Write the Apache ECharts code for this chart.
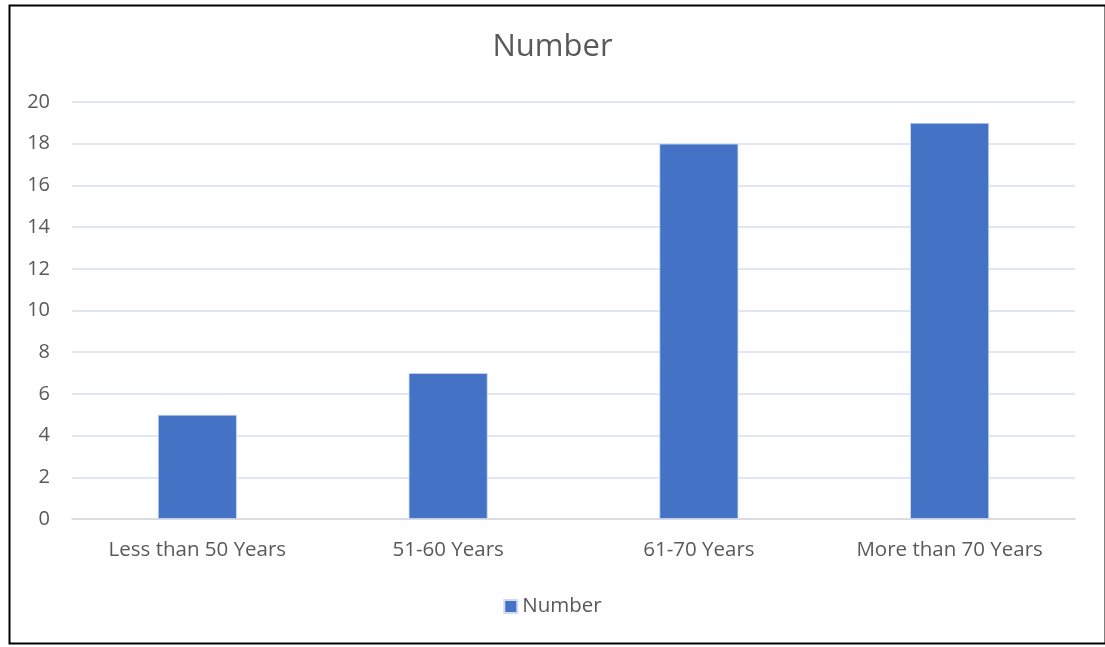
<!DOCTYPE html>
<html>
<head>
<meta charset="utf-8">
<script src="https://cdn.jsdelivr.net/npm/echarts@6/dist/echarts.min.js"></script>
<style>
  html, body { margin: 0; padding: 0; background: #fff; }
  #chart { width: 1105px; height: 647px; }
</style>
</head>
<body>
<div id="chart"></div>
<script>
var categories = ['Less than 50 Years', '51-60 Years', '61-70 Years', 'More than 70 Years'];
var numbers = [5, 7, 18, 19];
var seriesName = 'Number';

var myChart = echarts.init(document.getElementById('chart'));
var option = {
  animation: false,
  textStyle: { fontFamily: 'Open Sans' },
  title: {
    text: seriesName,
    left: 'center',
    top: 27,
    textStyle: { color: '#595959', fontSize: 31, fontWeight: 'normal', fontFamily: 'Open Sans' }
  },
  legend: {
    bottom: 25,
    left: 'center',
    itemWidth: 13,
    itemHeight: 13,
    itemGap: 6,
    icon: 'rect',
    textStyle: { color: '#595959', fontSize: 20.5, fontFamily: 'Open Sans' },
    data: [seriesName]
  },
  grid: { left: 72, right: 30, top: 102, bottom: 128 },
  xAxis: {
    type: 'category',
    data: categories,
    axisTick: { show: false },
    axisLine: { lineStyle: { color: '#d9d9d9', width: 1.5 } },
    axisLabel: { color: '#595959', fontSize: 20.5, margin: 21 }
  },
  yAxis: {
    type: 'value',
    min: 0,
    max: 20,
    interval: 2,
    axisLine: { show: false },
    axisTick: { show: false },
    axisLabel: { color: '#595959', fontSize: 20, margin: 22 },
    splitLine: { lineStyle: { color: '#d6def0', width: 1.5 } }
  },
  series: [{
    name: seriesName,
    type: 'bar',
    barWidth: '31.5%',
    data: numbers,
    itemStyle: { color: '#4472c4', borderColor: '#d0dbef', borderWidth: 0.8 }
  }],
  graphic: [{
    type: 'rect',
    left: 7,
    top: 3,
    shape: { width: 1096, height: 638 },
    style: { fill: 'none', stroke: '#000', lineWidth: 2 },
    silent: true
  }]
};
myChart.setOption(option);
</script>
</body>
</html>
